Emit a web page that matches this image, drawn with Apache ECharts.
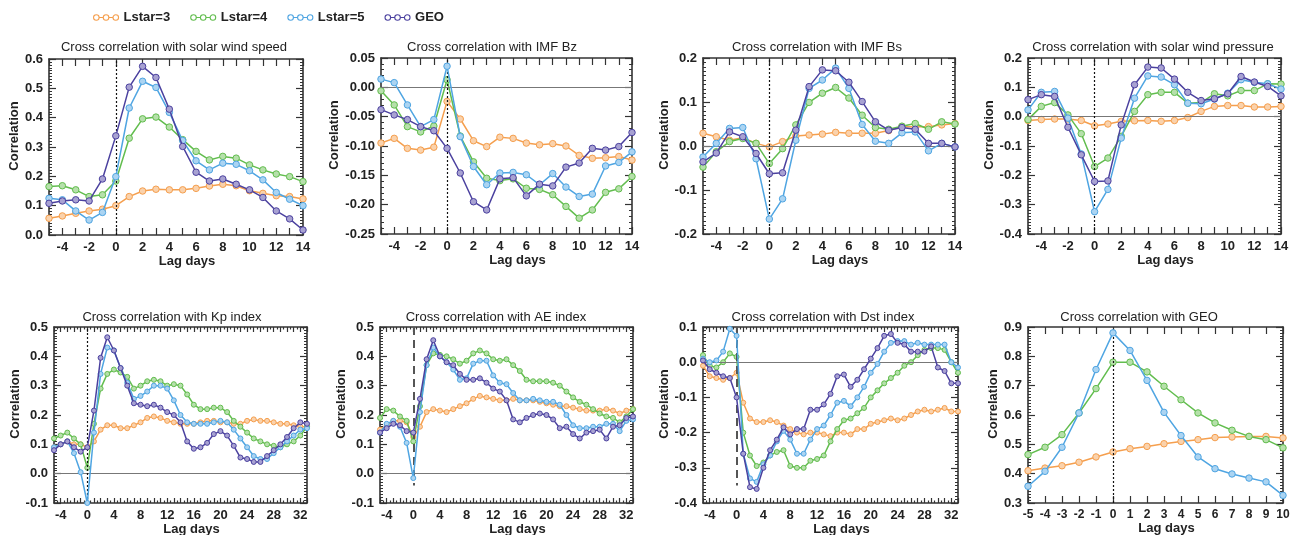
<!DOCTYPE html>
<html><head><meta charset="utf-8">
<script src="https://cdn.jsdelivr.net/npm/echarts@6/dist/echarts.min.js"></script>
<style>html,body{margin:0;padding:0;background:#fff}#c{width:1300px;height:535px}</style>
</head><body><div id="c"></div>
<script>
// ---------- DATA ----------
const seriesNames = ['Lstar=3', 'Lstar=4', 'Lstar=5', 'GEO'];
const lagShort = [-5,-4,-3,-2,-1,0,1,2,3,4,5,6,7,8,9,10,11,12,13,14];
const lagLong = [-5,-4,-3,-2,-1,0,1,2,3,4,5,6,7,8,9,10,11,12,13,14,15,16,17,18,19,20,21,22,23,24,25,26,27,28,29,30,31,32,33];
const lagGeo = [-5,-4,-3,-2,-1,0,1,2,3,4,5,6,7,8,9,10];
const xLabelsShort = [-4,-2,0,2,4,6,8,10,12,14];
const xLabelsLong = [-4,0,4,8,12,16,20,24,28,32];
const xLabelsGeo = [-5,-4,-3,-2,-1,0,1,2,3,4,5,6,7,8,9,10];
const titles = ['Cross correlation with solar wind speed','Cross correlation with IMF Bz','Cross correlation with IMF Bs','Cross correlation with solar wind pressure','Cross correlation with Kp index','Cross correlation with AE index','Cross correlation with Dst index','Cross correlation with GEO'];

const speedL3 = [0.057,0.065,0.074,0.082,0.088,0.100,0.131,0.150,0.156,0.154,0.154,0.159,0.167,0.173,0.168,0.151,0.142,0.134,0.131,0.123];
const speedL4 = [0.165,0.168,0.154,0.131,0.137,0.184,0.330,0.396,0.402,0.368,0.325,0.285,0.256,0.268,0.262,0.239,0.222,0.208,0.199,0.182];
const speedL5 = [0.125,0.120,0.082,0.051,0.077,0.199,0.433,0.524,0.503,0.418,0.322,0.253,0.222,0.245,0.241,0.219,0.188,0.145,0.122,0.100];
const speedGEO = [0.108,0.116,0.120,0.116,0.191,0.338,0.504,0.575,0.537,0.429,0.302,0.214,0.184,0.191,0.173,0.154,0.128,0.082,0.055,0.017];

const bzL3 = [-0.095,-0.087,-0.104,-0.107,-0.102,-0.024,-0.054,-0.091,-0.101,-0.085,-0.087,-0.095,-0.098,-0.096,-0.100,-0.116,-0.121,-0.120,-0.118,-0.124];
const bzL4 = [-0.006,-0.030,-0.067,-0.076,-0.066,0.013,-0.083,-0.127,-0.155,-0.159,-0.156,-0.172,-0.174,-0.183,-0.203,-0.223,-0.209,-0.179,-0.173,-0.152];
const bzL5 = [0.014,0.008,-0.030,-0.067,-0.055,0.036,-0.084,-0.135,-0.166,-0.146,-0.145,-0.149,-0.166,-0.147,-0.170,-0.186,-0.182,-0.134,-0.128,-0.110];
const bzGEO = [-0.038,-0.047,-0.055,-0.067,-0.074,-0.104,-0.146,-0.195,-0.209,-0.156,-0.154,-0.185,-0.165,-0.168,-0.136,-0.129,-0.104,-0.107,-0.101,-0.077];

const bsL3 = [0.029,0.021,0.013,0.019,0.006,-0.002,0.010,0.023,0.025,0.027,0.031,0.029,0.029,0.029,0.035,0.044,0.044,0.044,0.048,0.051];
const bsL4 = [-0.048,-0.013,0.010,0.017,0.006,-0.040,-0.006,0.048,0.099,0.120,0.133,0.109,0.070,0.042,0.038,0.045,0.051,0.038,0.055,0.050];
const bsL5 = [-0.025,0.006,0.040,0.042,-0.029,-0.166,-0.120,0.013,0.131,0.150,0.177,0.131,0.049,0.011,0.006,0.030,0.032,-0.011,0.006,-0.002];
const bsGEO = [-0.036,-0.016,0.032,0.021,-0.017,-0.063,-0.061,0.036,0.135,0.173,0.171,0.145,0.101,0.055,0.036,0.042,0.038,0.006,0.006,-0.002];

const presL3 = [-0.013,-0.010,-0.008,-0.008,-0.013,-0.031,-0.025,-0.016,-0.014,-0.013,-0.016,-0.013,-0.003,0.018,0.035,0.038,0.038,0.033,0.033,0.035];
const presL4 = [-0.010,0.035,0.048,0.006,-0.058,-0.170,-0.141,-0.067,0.018,0.075,0.083,0.083,0.046,0.048,0.078,0.071,0.089,0.089,0.112,0.111];
const presL5 = [0.023,0.083,0.086,-0.005,-0.127,-0.324,-0.248,-0.073,0.063,0.139,0.135,0.109,0.046,0.044,0.060,0.080,0.126,0.117,0.112,0.094];
const presGEO = [0.058,0.075,0.069,-0.036,-0.130,-0.221,-0.219,-0.028,0.109,0.169,0.166,0.128,0.083,0.055,0.061,0.078,0.137,0.118,0.103,0.071];

const kpL3 = [0.09,0.10,0.11,0.10,0.10,0.09,0.11,0.15,0.165,0.165,0.155,0.155,0.165,0.175,0.19,0.195,0.19,0.18,0.175,0.17,0.17,0.17,0.175,0.18,0.18,0.175,0.175,0.17,0.17,0.18,0.185,0.18,0.18,0.175,0.17,0.17,0.165,0.16,0.16];
const kpL4 = [0.12,0.13,0.14,0.12,0.10,0.02,0.17,0.29,0.34,0.355,0.345,0.33,0.29,0.30,0.315,0.32,0.315,0.30,0.305,0.30,0.27,0.235,0.22,0.22,0.225,0.225,0.21,0.18,0.16,0.14,0.12,0.11,0.10,0.095,0.09,0.10,0.11,0.13,0.16];
const kpL5 = [0.09,0.10,0.11,0.07,0.005,-0.10,0.14,0.34,0.43,0.42,0.36,0.31,0.255,0.265,0.28,0.30,0.30,0.29,0.25,0.20,0.175,0.17,0.17,0.17,0.175,0.18,0.175,0.15,0.12,0.09,0.06,0.05,0.05,0.07,0.09,0.11,0.13,0.15,0.155];
const kpGEO = [0.08,0.10,0.11,0.09,0.075,0.09,0.215,0.395,0.465,0.42,0.36,0.30,0.24,0.235,0.23,0.235,0.225,0.21,0.20,0.175,0.11,0.085,0.09,0.105,0.135,0.145,0.13,0.095,0.055,0.05,0.04,0.04,0.06,0.08,0.10,0.125,0.155,0.175,0.17];

const aeL3 = [0.15,0.165,0.18,0.18,0.175,0.125,0.16,0.21,0.22,0.215,0.21,0.22,0.23,0.24,0.255,0.265,0.26,0.255,0.25,0.25,0.255,0.25,0.25,0.25,0.245,0.24,0.235,0.23,0.23,0.225,0.22,0.215,0.215,0.215,0.22,0.215,0.205,0.215,0.22];
const aeL4 = [0.19,0.22,0.215,0.195,0.18,0.11,0.23,0.37,0.41,0.405,0.40,0.39,0.375,0.385,0.41,0.42,0.41,0.39,0.385,0.39,0.37,0.35,0.32,0.315,0.315,0.315,0.31,0.30,0.28,0.26,0.245,0.235,0.22,0.205,0.195,0.19,0.175,0.195,0.22];
const aeL5 = [0.14,0.17,0.18,0.16,0.105,-0.015,0.21,0.37,0.43,0.40,0.38,0.355,0.32,0.325,0.375,0.385,0.385,0.335,0.31,0.305,0.275,0.25,0.25,0.255,0.25,0.245,0.245,0.235,0.20,0.165,0.155,0.155,0.16,0.16,0.17,0.17,0.145,0.18,0.185];
const aeGEO = [0.14,0.155,0.17,0.165,0.145,0.14,0.255,0.39,0.455,0.40,0.38,0.37,0.34,0.32,0.32,0.325,0.31,0.29,0.28,0.25,0.185,0.175,0.19,0.20,0.205,0.20,0.185,0.155,0.16,0.135,0.12,0.14,0.145,0.15,0.12,0.16,0.165,0.19,0.195];

const dstL3 = [-0.01,-0.04,-0.045,-0.05,-0.045,-0.03,-0.115,-0.16,-0.17,-0.17,-0.165,-0.17,-0.18,-0.19,-0.20,-0.205,-0.20,-0.20,-0.205,-0.21,-0.20,-0.20,-0.205,-0.19,-0.19,-0.175,-0.17,-0.165,-0.16,-0.165,-0.16,-0.15,-0.14,-0.135,-0.14,-0.135,-0.13,-0.14,-0.14];
const dstL4 = [0.02,-0.01,-0.015,0.0,0.025,0.015,-0.20,-0.265,-0.295,-0.285,-0.265,-0.255,-0.25,-0.295,-0.30,-0.30,-0.28,-0.275,-0.265,-0.225,-0.19,-0.165,-0.16,-0.145,-0.13,-0.10,-0.08,-0.06,-0.045,-0.03,-0.01,0.0,0.02,0.035,0.04,0.04,0.035,0.0,-0.03];
const dstL5 = [0.01,0.0,0.005,0.03,0.095,0.075,-0.26,-0.33,-0.34,-0.29,-0.265,-0.225,-0.195,-0.22,-0.26,-0.26,-0.22,-0.19,-0.18,-0.15,-0.115,-0.11,-0.125,-0.10,-0.07,-0.03,-0.005,0.03,0.055,0.06,0.06,0.05,0.055,0.05,0.05,0.05,0.05,0.0,-0.015];
const dstGEO = [0.005,-0.02,-0.03,-0.04,-0.045,-0.10,-0.26,-0.355,-0.36,-0.30,-0.25,-0.22,-0.185,-0.205,-0.19,-0.19,-0.135,-0.135,-0.12,-0.09,-0.04,-0.035,-0.07,-0.05,-0.02,0.01,0.04,0.075,0.08,0.055,0.05,0.03,0.03,0.03,0.045,-0.015,-0.025,-0.06,-0.06];

const geoL3 = [0.41,0.419,0.427,0.439,0.457,0.474,0.485,0.493,0.502,0.51,0.516,0.523,0.525,0.527,0.527,0.522];
const geoL4 = [0.465,0.49,0.533,0.607,0.69,0.78,0.78,0.747,0.698,0.652,0.607,0.573,0.548,0.527,0.516,0.488];
const geoL5 = [0.357,0.408,0.49,0.607,0.755,0.88,0.82,0.718,0.609,0.53,0.457,0.417,0.399,0.385,0.372,0.326];

// ---------- STYLE / LAYOUT ----------
const colors = ['#F59F4E', '#62BD4E', '#4FA5E2', '#4B419F'];
const tints = ['#FAD2AC', '#B6E0AB', '#ABD4F2', '#A8A2D2'];
const FONT = 'Liberation Sans, Arial, Helvetica, sans-serif';
const INK = '#222';
const FRAME = '#333';

const panels = [
  {lags: lagShort, xl: xLabelsShort, xmax: 14, ymin: 0, ymax: 0.6, yi: 0.1, dec: 1, data: [speedL3, speedL4, speedL5, speedGEO], grid: [49, 59, 254, 176], tx: 174, ty: 41, ng: 27.5, zero: false, v: 'dot'},
  {lags: lagShort, xl: xLabelsShort, xmax: 14, ymin: -0.25, ymax: 0.05, yi: 0.05, dec: 2, data: [bzL3, bzL4, bzL5, bzGEO], grid: [381, 58, 251, 176], tx: 492, ty: 41, ng: 40.5, zero: true, v: 'dot'},
  {lags: lagShort, xl: xLabelsShort, xmax: 14, ymin: -0.2, ymax: 0.2, yi: 0.1, dec: 1, data: [bsL3, bsL4, bsL5, bsGEO], grid: [703, 58, 252, 176], tx: 817, ty: 41, ng: 30.5, zero: true, v: 'dot'},
  {lags: lagShort, xl: xLabelsShort, xmax: 14, ymin: -0.4, ymax: 0.2, yi: 0.1, dec: 1, data: [presL3, presL4, presL5, presGEO], grid: [1028, 58, 253, 176], tx: 1153, ty: 41, ng: 27.5, zero: true, v: 'dot'},
  {lags: lagLong, xl: xLabelsLong, xmax: 33, ymin: -0.1, ymax: 0.5, yi: 0.1, dec: 1, data: [kpL3, kpL4, kpL5, kpGEO], grid: [54, 327, 253, 176], tx: 172, ty: 311, ng: 30.5, zero: true, v: 'dot', long: true},
  {lags: lagLong, xl: xLabelsLong, xmax: 33, ymin: -0.1, ymax: 0.5, yi: 0.1, dec: 1, data: [aeL3, aeL4, aeL5, aeGEO], grid: [380, 327, 253, 176], tx: 496, ty: 311, ng: 32.5, zero: true, v: 'dash', vy: [0.5, -0.04], long: true},
  {lags: lagLong, xl: xLabelsLong, xmax: 33, ymin: -0.4, ymax: 0.1, yi: 0.1, dec: 1, data: [dstL3, dstL4, dstL5, dstGEO], grid: [703, 327, 255, 176], tx: 823, ty: 311, ng: 27.5, zero: true, v: 'dash', vy: [0.1, -0.35], long: true},
  {lags: lagGeo, xl: xLabelsGeo, xmax: 10, ymin: 0.3, ymax: 0.9, yi: 0.1, dec: 1, data: [geoL3, geoL4, geoL5], grid: [1028, 327, 255, 176], tx: 1139, ty: 311, ng: 24, zero: false, v: 'dot', small: true}
];

const tickLine = {color: FRAME, width: 1.2};
const frameLine = {show: true, onZero: false, lineStyle: {color: FRAME, width: 1.6}};
const labelStyle = {color: INK, fontFamily: FONT, fontWeight: 'bold', fontSize: 13};

const grid = [], xAxis = [], yAxis = [], series = [], title = [];
panels.forEach((p, i) => {
  grid.push({left: p.grid[0], top: p.grid[1], width: p.grid[2], height: p.grid[3], containLabel: false, outerBoundsMode: 'none'});
  title.push({text: titles[i], left: p.tx, top: p.ty, textAlign: 'center', padding: 0,
    textStyle: {fontFamily: FONT, fontSize: 13, fontWeight: 'normal', color: INK}});
  const xBase = {type: 'value', gridIndex: i, min: -5, max: p.xmax, interval: 1,
    axisLine: frameLine, splitLine: {show: false},
    axisTick: {show: true, inside: true, length: p.long ? 5 : 7, lineStyle: tickLine},
    minorTick: p.long ? {show: true, splitNumber: 2, length: 2.5, lineStyle: tickLine} : {show: false}};
  xAxis.push(Object.assign({}, xBase, {position: 'bottom',
    axisLabel: Object.assign({}, labelStyle, {customValues: p.xl, margin: 6, fontSize: p.small ? 12 : 13}),
    name: 'Lag days', nameLocation: 'middle', nameGap: 15,
    nameTextStyle: Object.assign({}, labelStyle, {padding: [0, 0, 0, 22]})}));
  xAxis.push(Object.assign({}, xBase, {position: 'top', axisLabel: {show: false}}));
  const yBase = {type: 'value', gridIndex: i, min: p.ymin, max: p.ymax, interval: p.yi,
    axisLine: frameLine, splitLine: {show: false},
    axisTick: {show: true, inside: true, length: 7, lineStyle: tickLine},
    minorTick: {show: true, splitNumber: p.dec === 2 ? 5 : 10, length: 3, lineStyle: {color: FRAME, width: 1}}};
  yAxis.push(Object.assign({}, yBase, {position: 'left',
    axisLabel: Object.assign({}, labelStyle, {margin: 6, formatter: v => v.toFixed(p.dec)}),
    name: 'Correlation', nameLocation: 'middle', nameGap: p.ng, nameRotate: 90,
    nameTextStyle: Object.assign({}, labelStyle, {padding: [0, 0, 0, 22]})}));
  yAxis.push(Object.assign({}, yBase, {position: 'right', axisLabel: {show: false}}));

  p.data.forEach((arr, j) => {
    const s = {type: 'line', name: seriesNames[j], xAxisIndex: 2 * i, yAxisIndex: 2 * i,
      data: p.lags.map((x, k) => [x, arr[k]]),
      symbol: 'circle', symbolSize: p.long ? 5 : 6.5, showSymbol: true,
      lineStyle: {color: colors[j], width: 1.5},
      itemStyle: {color: tints[j], borderColor: colors[j], borderWidth: 1},
      emphasis: {disabled: true}, z: 3 + j};
    if (j === 0 && p.zero) {
      s.markLine = {silent: true, symbol: 'none', label: {show: false}, animation: false,
        lineStyle: {color: '#777', width: 1.2, type: 'solid'}, data: [{yAxis: 0}]};
    }
    if (j === 1) {
      const vData = p.vy ? [[{coord: [0, p.vy[0]]}, {coord: [0, p.vy[1]]}]] : [{xAxis: 0}];
      s.markLine = {silent: true, symbol: 'none', label: {show: false}, animation: false,
        lineStyle: p.v === 'dash' ? {color: '#555', width: 2, type: [8, 5]} : {color: '#111', width: 1.2, type: [2, 2]},
        data: vData};
    }
    series.push(s);
  });
});

const legendIcon = 'path://M0,4A3,3,0,1,1,6,4A3,3,0,1,1,0,4M6,4L10.5,4M10.5,4A3,3,0,1,1,16.5,4A3,3,0,1,1,10.5,4M16.5,4L21,4M21,4A3,3,0,1,1,27,4A3,3,0,1,1,21,4';

const option = {
  animation: false,
  backgroundColor: '#fff',
  title: title,
  legend: {
    data: seriesNames.map((n, j) => ({name: n, icon: legendIcon,
      itemStyle: {color: '#fff', borderColor: colors[j], borderWidth: 1.1}})),
    left: 93, top: 11, padding: 0, itemWidth: 25, itemHeight: 7, itemGap: 20, selectedMode: false,
    textStyle: {color: INK, fontFamily: FONT, fontSize: 13, fontWeight: 'bold'}
  },
  grid: grid, xAxis: xAxis, yAxis: yAxis, series: series
};
const chart = echarts.init(document.getElementById('c'), null, {renderer: 'canvas'});
chart.setOption(option);
</script></body></html>
